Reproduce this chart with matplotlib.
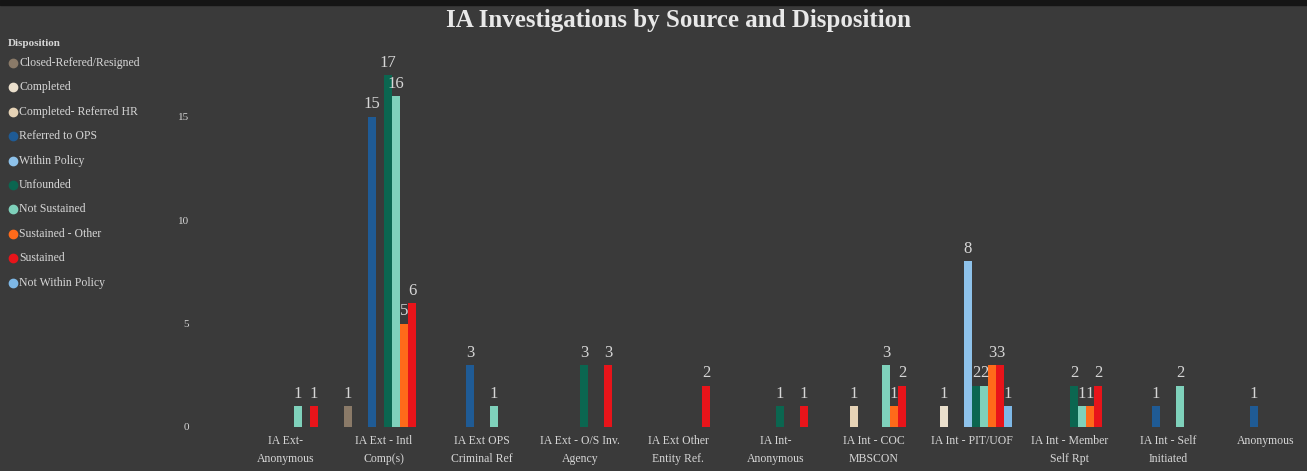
import numpy as np
import matplotlib
matplotlib.use("Agg")
import matplotlib.pyplot as plt

plt.rcParams['font.family'] = ['Liberation Serif', 'DejaVu Serif']

# source categories (x axis)
sources = ["IA Ext-\nAnonymous", "IA Ext - Intl\nComp(s)", "IA Ext OPS\nCriminal Ref",
           "IA Ext - O/S Inv.\nAgency", "IA Ext Other\nEntity Ref.", "IA Int-\nAnonymous",
           "IA Int - COC\nMBSCON", "IA Int - PIT/UOF", "IA Int - Member\nSelf Rpt",
           "IA Int - Self\nInitiated", "Anonymous"]

# disposition series, one value per source
closed_refered = [0, 1, 0, 0, 0, 0, 0, 0, 0, 0, 0]
completed = [0, 0, 0, 0, 0, 0, 0, 1, 0, 0, 0]
completed_hr = [0, 0, 0, 0, 0, 0, 1, 0, 0, 0, 0]
referred_ops = [0, 15, 3, 0, 0, 0, 0, 0, 0, 1, 1]
within_policy = [0, 0, 0, 0, 0, 0, 0, 8, 0, 0, 0]
unfounded = [0, 17, 0, 3, 0, 1, 0, 2, 2, 0, 0]
not_sustained = [1, 16, 1, 0, 0, 0, 3, 2, 1, 2, 0]
sustained_other = [0, 5, 0, 0, 0, 0, 1, 3, 1, 0, 0]
sustained = [1, 6, 0, 3, 2, 1, 2, 3, 2, 0, 0]
not_within_policy = [0, 0, 0, 0, 0, 0, 0, 1, 0, 0, 0]

series = [
    ("Closed-Refered/Resigned", closed_refered, "#8a7a68"),
    ("Completed", completed, "#eadfcc"),
    ("Completed- Referred HR", completed_hr, "#e6d3b6"),
    ("Referred to OPS", referred_ops, "#1f5b95"),
    ("Within Policy", within_policy, "#8ec2ea"),
    ("Unfounded", unfounded, "#0b6650"),
    ("Not Sustained", not_sustained, "#7fd1bb"),
    ("Sustained - Other", sustained_other, "#ff6a1a"),
    ("Sustained", sustained, "#e8141a"),
    ("Not Within Policy", not_within_policy, "#7eb8e6"),
]

bg = "#3a3a3a"
txt = "#d6d6d6"
W, H = 1307, 471

fig = plt.figure(figsize=(W/100, H/100), dpi=100, facecolor=bg)
ax = fig.add_axes([200/W, 44/H, 1100/W, 387/H])
ax.set_facecolor(bg)

slot = 8/98
x = np.arange(len(sources))
for j, (name, vals, col) in enumerate(series):
    xs = x + (j - 4.5) * slot
    for xi, v in zip(xs, vals):
        if v == 0:
            continue
        ax.bar(xi, v, width=slot*1.1, color=col, linewidth=0)
        ax.text(xi, v + 0.2, str(v), ha='center', va='bottom', color=txt, fontsize=12)

ax.set_xlim((200-286)/98, (1300-286)/98)
ax.set_ylim(0, 18.7)
ax.set_xticks(x)
ax.set_xticklabels(sources, fontsize=8.5, color=txt, linespacing=1.6)
ax.set_yticks([0, 5, 10, 15])
ax.set_yticklabels(["0", "5", "10", "15"], fontsize=8, color=txt)
ax.tick_params(length=0, pad=6)
ax.tick_params(axis='y', pad=8)
for s in ax.spines.values():
    s.set_visible(False)

fig.text(678/W, 1 - 20/H, "IA Investigations by Source and Disposition",
         ha='center', va='center', fontsize=18, fontweight='bold', color="#e8e8e8")

# legend drawn by hand to match the spacing
fig.text(8/W, 1 - 44/H, "Disposition", ha='left', va='center', fontsize=8,
         fontweight='bold', color=txt)
for k, (name, _, col) in enumerate(series):
    yk = 1 - (63 + 24.4*k)/H
    fig.add_artist(plt.Line2D([13/W], [yk], marker='o', markersize=6, color=col,
                              linestyle='', transform=fig.transFigure))
    fig.text(19/W, yk, name, ha='left', va='center', fontsize=8.5, color=txt)

# dark strip along the top edge
fig.patches.append(plt.Rectangle((0, 1 - 5/H), 1, 5/H, transform=fig.transFigure,
                                 color="#151515", zorder=5))

fig.savefig("out.png", dpi=100, facecolor=bg)
